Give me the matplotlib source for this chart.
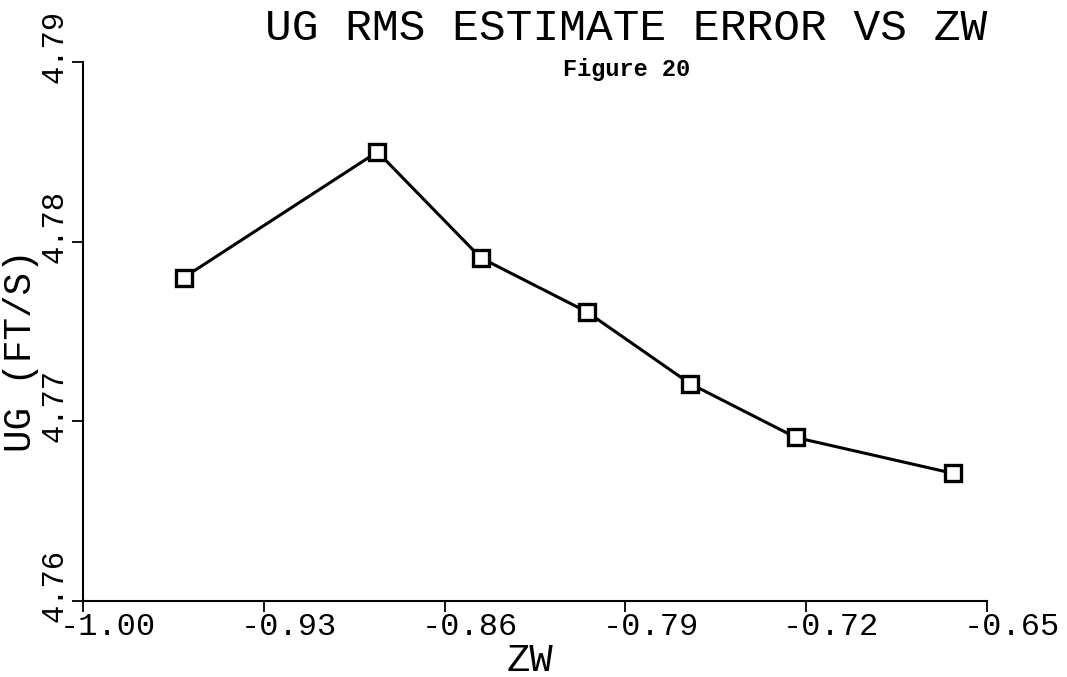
import matplotlib.pyplot as plt
import matplotlib.transforms as mtransforms

# values
zw = [-0.961, -0.886, -0.846, -0.805, -0.765, -0.724, -0.663]
ug_rms = [4.7780, 4.7850, 4.7791, 4.7761, 4.7721, 4.7691, 4.7671]

xticks = [-1.00, -0.93, -0.86, -0.79, -0.72, -0.65]
yticks = [4.76, 4.77, 4.78, 4.79]

mono = 'Liberation Mono'

fig = plt.figure(figsize=(10.67, 6.77), dpi=100)
ax = fig.add_axes([0.0778, 0.1123, 0.8472, 0.7961])

ax.plot(zw, ug_rms, color='k', linewidth=2.2, marker='s', markersize=11,
        markerfacecolor='white', markeredgecolor='k', markeredgewidth=2.4)

ax.set_xlim(xticks[0], xticks[-1])
ax.set_ylim(yticks[0], yticks[-1])
ax.set_xticks(xticks)
ax.set_yticks(yticks)
ax.set_xticklabels(['%.2f' % v for v in xticks], family=mono, fontsize=23,
                   ha='left')
ax.set_yticklabels(['%.2f' % v for v in yticks], family=mono, fontsize=22,
                   rotation=90, va='bottom')

for s in ['top', 'right']:
    ax.spines[s].set_visible(False)
for s in ['left', 'bottom']:
    ax.spines[s].set_linewidth(1.5)

ax.tick_params(axis='x', direction='out', length=8, width=1.3, pad=0)
ax.tick_params(axis='y', direction='out', length=8, width=1.3, pad=2)

# shift tick labels like the plotter output
xoff = mtransforms.ScaledTranslation(-23 / 100, 0, fig.dpi_scale_trans)
yoff = mtransforms.ScaledTranslation(0, -21 / 100, fig.dpi_scale_trans)
for lab in ax.get_xticklabels():
    lab.set_transform(lab.get_transform() + xoff)
for lab in ax.get_yticklabels():
    lab.set_transform(lab.get_transform() + yoff)

fig.text(0.587, 0.958, 'UG RMS ESTIMATE ERROR VS ZW', family=mono,
         fontsize=32, ha='center', va='center')
fig.text(0.587, 0.897, 'Figure 20', family=mono,
         fontweight='bold', fontsize=17, ha='center', va='center')
fig.text(0.0195, 0.4815, 'UG (FT/S)', family=mono, fontsize=27,
         rotation=90, ha='center', va='center')
fig.text(0.497, 0.0236, 'ZW', family=mono, fontsize=28,
         ha='center', va='center')

fig.savefig('out.png', dpi=100)
